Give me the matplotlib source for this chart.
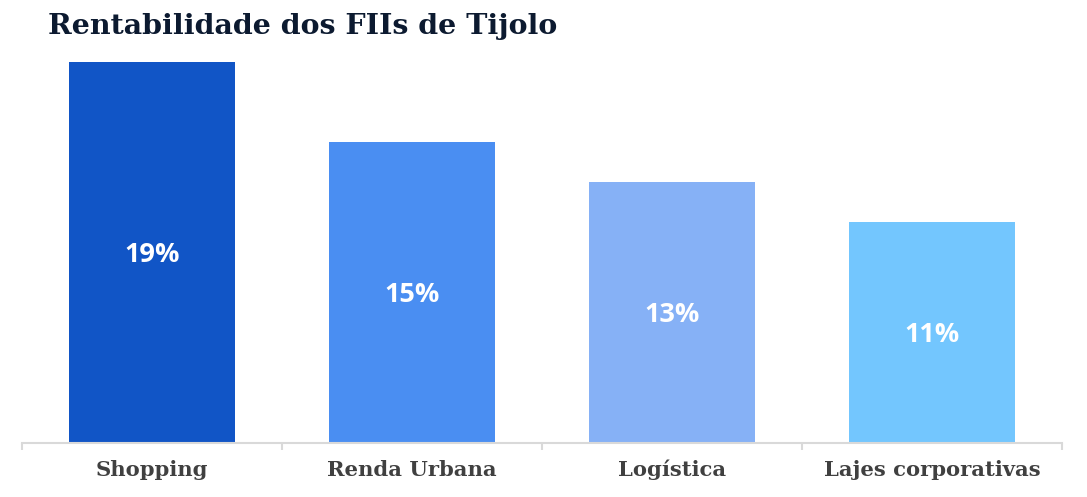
import matplotlib.pyplot as plt
import numpy as np

categorias = ['Shopping', 'Renda Urbana', 'Logística', 'Lajes corporativas']
rentabilidade = [19, 15, 13, 11]
cores = ['#1155c6', '#4a8ef2', '#86b1f6', '#73c6fe']

fig = plt.figure(figsize=(10.87, 4.97), dpi=100)
ax = fig.add_axes([22 / 1087, 54 / 497, 1040 / 1087, 381 / 497])

x = np.arange(len(categorias))
bars = ax.bar(x, rentabilidade, width=0.64, color=cores, zorder=2)

for b, v in zip(bars, rentabilidade):
    ax.text(b.get_x() + b.get_width() / 2, v / 2 - 0.1, f'{v}%',
            ha='center', va='center', color='white', fontsize=19.5,
            fontweight='bold', family='Open Sans')

ax.set_xlim(-0.5, len(categorias) - 0.5)
ax.set_ylim(0, max(rentabilidade))
ax.set_yticks([])
for s in ['top', 'right', 'left']:
    ax.spines[s].set_visible(False)
ax.spines['bottom'].set_color('#d9d9d9')
ax.spines['bottom'].set_linewidth(1.5)

# ticks between categories
ax.set_xticks(np.arange(-0.5, len(categorias)), minor=False)
ax.set_xticklabels([])
ax.tick_params(axis='x', length=5, color='#d9d9d9', width=1.5)
for xi, c in zip(x, categorias):
    ax.text(xi, -1.35, c, ha='center', va='center', fontsize=15.2,
            fontweight='bold', color='#404040', family='DejaVu Serif')

fig.text(48 / 1087, 1 - 27 / 497, 'Rentabilidade dos FIIs de Tijolo',
         ha='left', va='center', fontsize=20.5, fontweight='bold',
         color='#0c1a30', family='DejaVu Serif')

fig.savefig('out.png', dpi=100)
